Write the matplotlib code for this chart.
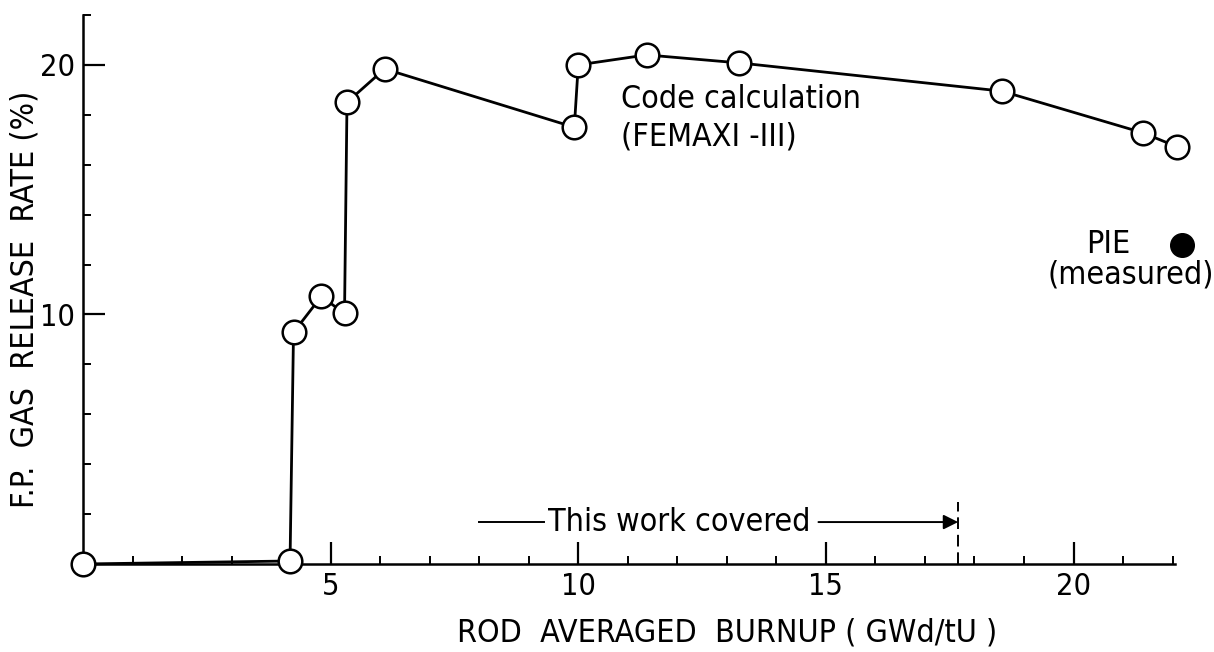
import numpy as np
import matplotlib
matplotlib.use("Agg")
import matplotlib.pyplot as plt
from matplotlib.ticker import MultipleLocator
from matplotlib import font_manager

# -----------------------------------------------------------
# Data
# -----------------------------------------------------------
burnup = [0.0, 4.18, 4.25, 4.81, 5.28, 5.33, 6.09, 9.92, 10.0, 11.38, 13.25, 18.55, 21.4, 22.09]
release = [0.0, 0.12, 9.28, 10.72, 10.04, 18.5, 19.84, 17.5, 20.0, 20.4, 20.08, 18.95, 17.28, 16.72]

pie_burnup = [22.19]
pie_release = [12.8]

covered_start = 8.0
covered_end = 17.67

x_major = [5, 10, 15, 20]
y_major = [10, 20]

# narrow lettering like the original, if a condensed face is around
path = font_manager.findfont(font_manager.FontProperties(family="DejaVu Sans", stretch="condensed"))
if "Condensed" in path:
    stretch, fs, fs_tick = "condensed", 23, 22
else:
    stretch, fs, fs_tick = "normal", 21, 19

plt.rcParams.update({
    "font.family": "DejaVu Sans",
    "font.stretch": stretch,
    "font.size": fs,
})

fig = plt.figure(figsize=(12.14, 6.52), dpi=100)
ax = fig.add_axes([0.0684, 0.135, 0.8995, 0.842])

# code calculation line
ax.plot(burnup, release, color="black", lw=2.0, marker="o", ms=17,
        mfc="white", mec="black", mew=1.8, clip_on=False, zorder=3)

# measured point (PIE)
ax.plot(pie_burnup, pie_release, "o", color="black", ms=17, clip_on=False, zorder=3)

ax.set_xlim(0, 22.05)
ax.set_ylim(0, 22)

ax.xaxis.set_major_locator(plt.FixedLocator(x_major))
ax.xaxis.set_minor_locator(MultipleLocator(1))
ax.yaxis.set_major_locator(plt.FixedLocator(y_major))
ax.yaxis.set_minor_locator(MultipleLocator(2))

ax.tick_params(which="major", direction="in", length=16, width=1.6, labelsize=fs_tick, pad=6)
ax.tick_params(which="minor", direction="in", length=6, width=1.4)

for s in ["top", "right"]:
    ax.spines[s].set_visible(False)
for s in ["left", "bottom"]:
    ax.spines[s].set_linewidth(1.8)

ax.set_xlabel("ROD  AVERAGED  BURNUP ( GWd/tU )", fontsize=fs, va="center")
ax.xaxis.set_label_coords(0.59, -0.126)
ax.set_ylabel("F.P.  GAS  RELEASE  RATE (%)", fontsize=fs, va="center")
ax.yaxis.set_label_coords(-0.053, 0.483)

# annotations
ax.text(10.87, 18.6, "Code calculation", ha="left", va="center", fontsize=fs)
ax.text(10.87, 17.12, "(FEMAXI -III)", ha="left", va="center", fontsize=fs)
ax.text(20.26, 12.8, "PIE", ha="left", va="center", fontsize=fs)
ax.text(22.84, 11.6, "(measured)", ha="right", va="center", fontsize=fs,
        clip_on=False)

# covered range
ax.plot([covered_end, covered_end], [0, 2.5], color="black", lw=1.4,
        linestyle=(0, (6, 3)))
ax.plot([covered_start, 9.3], [1.68, 1.68], color="black", lw=1.4)
ax.text(12.03, 1.68, "This work covered", ha="center", va="center", fontsize=fs)
ax.annotate("", xy=(covered_end, 1.68), xytext=(14.85, 1.68),
            arrowprops=dict(arrowstyle="-|>", color="black", lw=1.4,
                            mutation_scale=22, shrinkA=0, shrinkB=0))

fig.savefig("out.png", dpi=100)
